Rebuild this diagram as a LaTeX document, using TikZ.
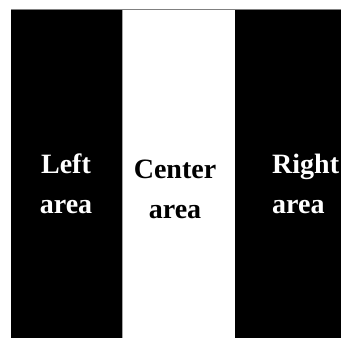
\documentclass[tikz,border=0pt]{standalone}
\usepackage{fontspec}
\setmainfont{Liberation Serif}
\usepackage{tikz}

\tikzset{
    areatext/.style={font=\fontsize{28}{40}\selectfont\bfseries, align=center, inner sep=0pt, anchor=base},
}

\begin{document}
\begin{tikzpicture}[x=1pt, y=-1pt]

    % Rahmen des Bildes
    \useasboundingbox (0,0) rectangle (341,338);

    % Linker Bereich (schwarz)
    \fill[black] (11,9) rectangle (122,338);

    % Mittlerer Bereich (weiss)
    \filldraw[fill=white, draw=gray!70, line width=0.6pt] (122,9) rectangle (235,340);

    % Rechter Bereich (schwarz)
    \fill[black] (235,9) rectangle (341,338);

    % Obere Kante
    \draw[gray, line width=0.8pt] (11,9) -- (341,9);

    % Beschriftungen (Anker auf der unteren Zeile)
    \node[areatext, text=white] (left) at (66,213) {Left\\area};
    \node[areatext, text=black] (center) at (175,218) {Center\\area};
    \node[areatext, text=white, align=left, anchor=base west] (right) at (272,213) {Right\\area};

\end{tikzpicture}
\end{document}
